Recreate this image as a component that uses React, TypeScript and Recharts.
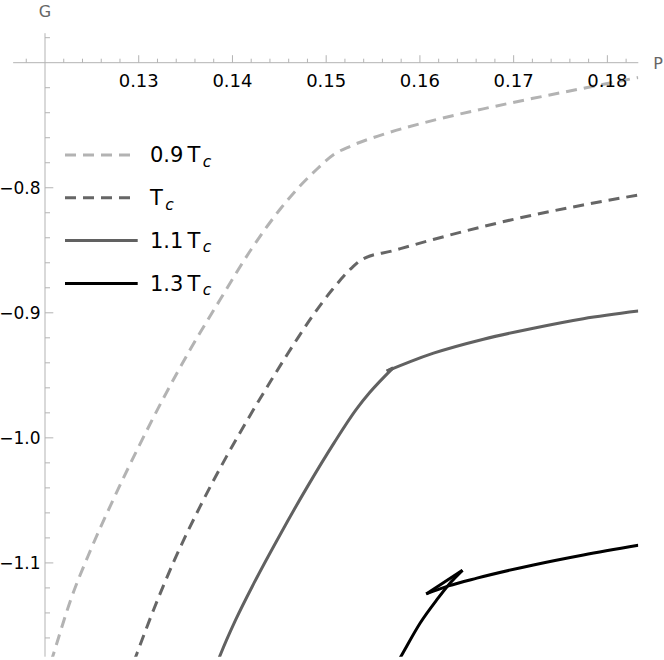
import React from 'react';
import { LineChart, Line, XAxis, YAxis, ReferenceLine, Legend, Label } from 'recharts';

// P (x) and G (y) values
const P_09 = [0.12063, 0.12094, 0.12275, 0.12488, 0.12728, 0.12984, 0.13256, 0.13549, 0.13869, 0.14199, 0.14506, 0.14715, 0.14897, 0.15081, 0.15257, 0.15609, 0.16142, 0.16675, 0.17208, 0.17741, 0.1833];
const G_09 = [-1.1794, -1.172, -1.1294, -1.0894, -1.0494, -1.0094, -0.9694, -0.9294, -0.8894, -0.8494, -0.8174, -0.799, -0.7854, -0.7734, -0.7668, -0.7573, -0.7461, -0.7369, -0.7285, -0.7205, -0.7118];

const P_10 = [0.12946, 0.12983, 0.13159, 0.13383, 0.13654, 0.13936, 0.14143, 0.14418, 0.14707, 0.1485, 0.15066, 0.15277, 0.1538, 0.15715, 0.16142, 0.16675, 0.17208, 0.17741, 0.1833];
const G_10 = [-1.1794, -1.172, -1.1374, -1.0974, -1.055, -1.015, -0.9878, -0.9534, -0.919, -0.903, -0.8814, -0.8638, -0.8574, -0.8503, -0.8414, -0.831, -0.8218, -0.8138, -0.8058];

// 1.1 Tc and 1.3 Tc have a small swallowtail: lower branch up to one cusp, upper branch from the other
const P_11_LOW = [0.13839, 0.13871, 0.14035, 0.14232, 0.1452, 0.148, 0.15086, 0.15319, 0.15464, 0.15714];
const G_11_LOW = [-1.1794, -1.1734, -1.1454, -1.1158, -1.0758, -1.039, -1.0038, -0.9774, -0.9638, -0.944];
const P_11_UP = [0.15646, 0.15897, 0.16145, 0.16678, 0.17211, 0.17744, 0.1833];
const G_11_UP = [-0.9466, -0.939, -0.9323, -0.9211, -0.9123, -0.9047, -0.8986];

const P_13_LOW = [0.15762, 0.15808, 0.16003, 0.16181, 0.16323, 0.16454];
const G_13_LOW = [-1.1794, -1.1734, -1.148, -1.1294, -1.116, -1.1059];
const P_13_UP = [0.16067, 0.16305, 0.16608, 0.17211, 0.17744, 0.1833];
const G_13_UP = [-1.1248, -1.1184, -1.1122, -1.1016, -1.0936, -1.0859];

const LEGEND_COEFS = ['0.9', '', '1.1', '1.3'];
const X_LABELS = [0.13, 0.14, 0.15, 0.16, 0.17, 0.18];
const Y_LABELS = [-0.8, -0.9, -1.0, -1.1];

const W = 664;
const H = 660;
const PLOT_LEFT = 45;
const PLOT_TOP = 62.7;
const PLOT_RIGHT = 638.3;
const PLOT_BOTTOM = 656.7;
const X_DOMAIN = [0.12, 0.1833];
const Y_DOMAIN = [-1.175, -0.7];

const FONT = '"DejaVu Sans", sans-serif';
const AXIS = '#b3b3b3';

const zip = (ps: number[], gs: number[]) => ps.map((P, i) => ({ P, G: gs[i] }));
const last = (a: any[]) => a[a.length - 1];

const low11 = zip(P_11_LOW, G_11_LOW);
const up11 = zip(P_11_UP, G_11_UP);
const low13 = zip(P_13_LOW, G_13_LOW);
const up13 = zip(P_13_UP, G_13_UP);

const SERIES = [
  { key: 't09', color: '#b3b3b3', dash: '11 7', parts: [zip(P_09, G_09)] },
  { key: 't10', color: '#666666', dash: '11 7', parts: [zip(P_10, G_10)] },
  { key: 't11', color: '#616161', dash: undefined, parts: [low11, [last(low11), up11[0]], up11] },
  { key: 't13', color: '#000000', dash: undefined, parts: [low13, [last(low13), up13[0]], up13] },
];

// minor ticks every 0.002 on P, 0.02 on G
const xTicks: number[] = [];
for (let i = 61; i <= 91; i++) xTicks.push(+(i * 0.002).toFixed(3));
const yTicks: number[] = [];
for (let i = -58; i <= -36; i++) yTicks.push(+(i * 0.02).toFixed(2));

const isMajor = (list: number[], v: number) => list.some((m) => Math.abs(m - v) < 1e-9);

function XTick(props: any) {
  const { x, payload } = props;
  const major = isMajor(X_LABELS, payload.value);
  return (
    <g>
      <line x1={x} x2={x} y1={PLOT_TOP} y2={PLOT_TOP - (major ? 7.5 : 4)} stroke={AXIS} />
      {major && (
        <text x={x} y={PLOT_TOP + 24} textAnchor="middle" fontSize={18} fontFamily={FONT} fill="#000">
          {payload.value.toFixed(2)}
        </text>
      )}
    </g>
  );
}

function YTick(props: any) {
  const { y, payload } = props;
  const major = isMajor(Y_LABELS, payload.value);
  return (
    <g>
      <line x1={PLOT_LEFT} x2={PLOT_LEFT + (major ? 8.3 : 5)} y1={y} y2={y} stroke={AXIS} />
      {major && (
        <text x={PLOT_LEFT - 4.5} y={y + 6.2} textAnchor="end" fontSize={17} fontFamily={FONT} fill="#000">
          {'\u2212' + Math.abs(payload.value).toFixed(1)}
        </text>
      )}
    </g>
  );
}

function renderLegend() {
  return (
    <svg width={240} height={310} style={{ display: 'block' }}>
      {SERIES.map((s, i) => {
        const y = 155 + i * 42.8;
        const coef = LEGEND_COEFS[i];
        return (
          <g key={s.key}>
            <line x1={65} x2={s.dash ? 131 : 137.7} y1={y} y2={y} stroke={s.color} strokeWidth={3} strokeDasharray={s.dash} />
            <text x={150} y={y + 7.3} fontSize={21} fontFamily={FONT} fill="#000">
              {coef && <tspan>{coef}</tspan>}
              <tspan dx={coef ? 4 : 0}>T</tspan>
              <tspan dx={2.5} dy={4.5} fontSize={15.5} fontStyle="italic">c</tspan>
            </text>
          </g>
        );
      })}
    </svg>
  );
}

export default function App() {
  return (
    <div style={{ position: 'absolute', left: 0, top: 0, width: W, height: H, background: '#fff' }}>
      <LineChart
        width={W}
        height={H}
        margin={{ top: PLOT_TOP - 30, right: W - PLOT_RIGHT, bottom: H - PLOT_BOTTOM, left: 0 }}
      >
        <XAxis
          dataKey="P"
          type="number"
          orientation="top"
          height={30}
          domain={X_DOMAIN}
          allowDataOverflow
          ticks={xTicks}
          interval={0}
          tick={<XTick />}
          tickLine={false}
          axisLine={{ stroke: AXIS }}
        >
          <Label
            content={() => (
              <text x={PLOT_RIGHT + 15} y={PLOT_TOP + 6} fontSize={16} fontFamily={FONT} fill="#666">
                P
              </text>
            )}
          />
        </XAxis>
        <YAxis
          type="number"
          width={PLOT_LEFT}
          domain={Y_DOMAIN}
          allowDataOverflow
          ticks={yTicks}
          interval={0}
          tick={<YTick />}
          tickLine={false}
          axisLine={{ stroke: AXIS }}
        >
          <Label
            content={() => (
              <text x={PLOT_LEFT} y={17} textAnchor="middle" fontSize={16} fontFamily={FONT} fill="#666">
                G
              </text>
            )}
          />
        </YAxis>
        {/* axis overhang past the origin, as Mathematica draws it */}
        <ReferenceLine segment={[{ x: 0.1166, y: -0.7 }, { x: 0.12, y: -0.7 }]} ifOverflow="visible" stroke={AXIS} />
        <ReferenceLine segment={[{ x: 0.12, y: -0.7 }, { x: 0.12, y: -0.6764 }]} ifOverflow="visible" stroke={AXIS} />
        <ReferenceLine segment={[{ x: 0.118, y: -0.7 }, { x: 0.118, y: -0.6968 }]} ifOverflow="visible" stroke={AXIS} />
        <ReferenceLine segment={[{ x: 0.12, y: -0.68 }, { x: 0.12053, y: -0.68 }]} ifOverflow="visible" stroke={AXIS} />
        <Legend
          content={renderLegend}
          layout="vertical"
          align="center"
          verticalAlign="middle"
          wrapperStyle={{ left: 0, top: 0, width: 240, height: 310 }}
        />
        {SERIES.flatMap((s) =>
          s.parts.map((part, j) => (
            <Line
              key={`${s.key}-${j}`}
              data={part}
              dataKey="G"
              type={part.length > 2 ? 'monotone' : 'linear'}
              stroke={s.color}
              strokeWidth={3}
              strokeDasharray={s.dash}
              dot={false}
              activeDot={false}
              legendType="none"
              isAnimationActive={false}
            />
          ))
        )}
      </LineChart>
    </div>
  );
}
